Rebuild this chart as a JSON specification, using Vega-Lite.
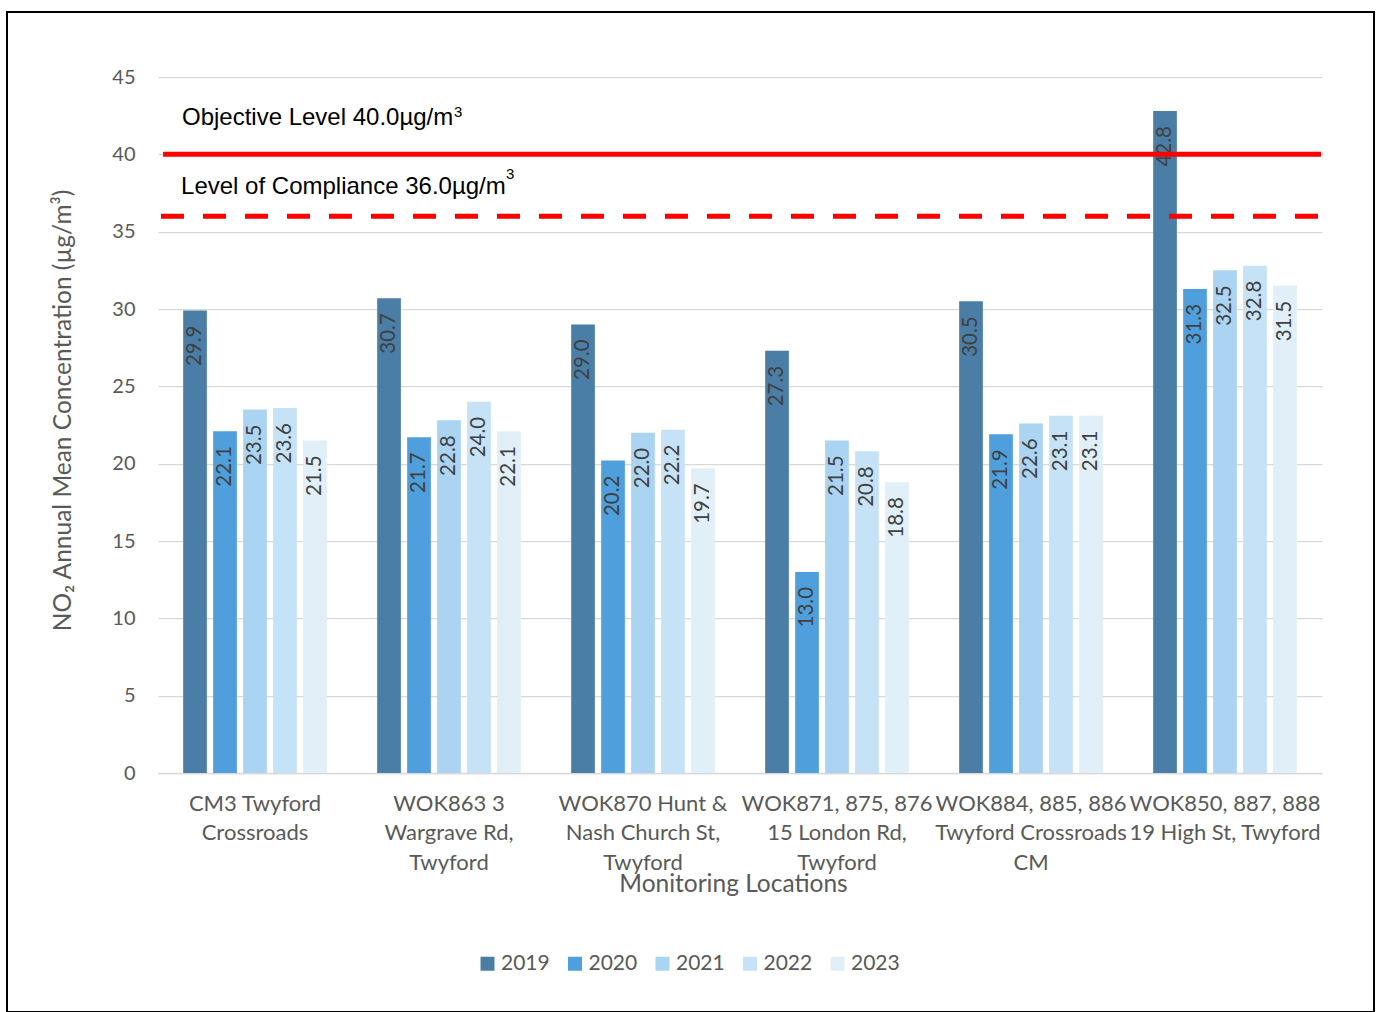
{
  "$schema": "https://vega.github.io/schema/vega-lite/v6.json",
  "autosize": {"type": "none"},
  "padding": {"left": 7, "top": 12, "right": 4, "bottom": 0},
  "width": 1367,
  "height": 1000,
  "background": "white",
  "config": {
    "view": {"stroke": "#000000", "strokeWidth": 2, "fill": "white"}
  },
  "datasets": {
    "no2": [
      {"location": "CM3 Twyford Crossroads", "year": "2019", "value": 29.9},
      {"location": "CM3 Twyford Crossroads", "year": "2020", "value": 22.1},
      {"location": "CM3 Twyford Crossroads", "year": "2021", "value": 23.5},
      {"location": "CM3 Twyford Crossroads", "year": "2022", "value": 23.6},
      {"location": "CM3 Twyford Crossroads", "year": "2023", "value": 21.5},
      {"location": "WOK863 3 Wargrave Rd, Twyford", "year": "2019", "value": 30.7},
      {"location": "WOK863 3 Wargrave Rd, Twyford", "year": "2020", "value": 21.7},
      {"location": "WOK863 3 Wargrave Rd, Twyford", "year": "2021", "value": 22.8},
      {"location": "WOK863 3 Wargrave Rd, Twyford", "year": "2022", "value": 24.0},
      {"location": "WOK863 3 Wargrave Rd, Twyford", "year": "2023", "value": 22.1},
      {"location": "WOK870 Hunt & Nash Church St, Twyford", "year": "2019", "value": 29.0},
      {"location": "WOK870 Hunt & Nash Church St, Twyford", "year": "2020", "value": 20.2},
      {"location": "WOK870 Hunt & Nash Church St, Twyford", "year": "2021", "value": 22.0},
      {"location": "WOK870 Hunt & Nash Church St, Twyford", "year": "2022", "value": 22.2},
      {"location": "WOK870 Hunt & Nash Church St, Twyford", "year": "2023", "value": 19.7},
      {"location": "WOK871, 875, 876 15 London Rd, Twyford", "year": "2019", "value": 27.3},
      {"location": "WOK871, 875, 876 15 London Rd, Twyford", "year": "2020", "value": 13.0},
      {"location": "WOK871, 875, 876 15 London Rd, Twyford", "year": "2021", "value": 21.5},
      {"location": "WOK871, 875, 876 15 London Rd, Twyford", "year": "2022", "value": 20.8},
      {"location": "WOK871, 875, 876 15 London Rd, Twyford", "year": "2023", "value": 18.8},
      {"location": "WOK884, 885, 886 Twyford Crossroads CM", "year": "2019", "value": 30.5},
      {"location": "WOK884, 885, 886 Twyford Crossroads CM", "year": "2020", "value": 21.9},
      {"location": "WOK884, 885, 886 Twyford Crossroads CM", "year": "2021", "value": 22.6},
      {"location": "WOK884, 885, 886 Twyford Crossroads CM", "year": "2022", "value": 23.1},
      {"location": "WOK884, 885, 886 Twyford Crossroads CM", "year": "2023", "value": 23.1},
      {"location": "WOK850, 887, 888 19 High St, Twyford", "year": "2019", "value": 42.8},
      {"location": "WOK850, 887, 888 19 High St, Twyford", "year": "2020", "value": 31.3},
      {"location": "WOK850, 887, 888 19 High St, Twyford", "year": "2021", "value": 32.5},
      {"location": "WOK850, 887, 888 19 High St, Twyford", "year": "2022", "value": 32.8},
      {"location": "WOK850, 887, 888 19 High St, Twyford", "year": "2023", "value": 31.5}
    ],
    "levels": [
      {"level": 40.0, "label": "Objective Level 40.0µg/m", "sup": "3"},
      {"level": 36.0, "label": "Level of Compliance 36.0µg/m", "sup": "3"}
    ]
  },
  "layer": [
    {
      "data": {"name": "no2"},
      "mark": {"type": "bar"},
      "encoding": {
        "x": {
          "field": "location",
          "type": "nominal",
          "sort": null,
          "scale": {
            "domain": [
              "CM3 Twyford Crossroads",
              "WOK863 3 Wargrave Rd, Twyford",
              "WOK870 Hunt & Nash Church St, Twyford",
              "WOK871, 875, 876 15 London Rd, Twyford",
              "WOK884, 885, 886 Twyford Crossroads CM",
              "WOK850, 887, 888 19 High St, Twyford"
            ],
            "range": [151, 1315],
            "paddingInner": 0.227,
            "paddingOuter": 0.1135
          },
          "axis": {
            "title": "Monitoring Locations",
            "offset": -239,
            "labelAngle": 0,
            "labelPadding": 20,
            "labelBaseline": "top",
            "labelLineHeight": 29.5,
            "labelFont": "Lato",
            "labelFontSize": 22,
            "labelColor": "#595959",
            "labelLimit": 400,
            "labelOverlap": false,
            "labelBound": false,
            "ticks": false,
            "grid": false,
            "domainColor": "#d9d9d9",
            "domainWidth": 1.5,
            "titleFont": "Lato",
            "titleFontSize": 24.5,
            "titleFontWeight": "normal",
            "titleColor": "#595959",
            "titleX": 726,
            "titleY": 118,
            "titleBaseline": "alphabetic",
            "labelExpr": "datum.value == 'CM3 Twyford Crossroads' ? ['CM3 Twyford', 'Crossroads'] : datum.value == 'WOK863 3 Wargrave Rd, Twyford' ? ['WOK863 3', 'Wargrave Rd,', 'Twyford'] : datum.value == 'WOK870 Hunt & Nash Church St, Twyford' ? ['WOK870 Hunt &', 'Nash Church St,', 'Twyford'] : datum.value == 'WOK871, 875, 876 15 London Rd, Twyford' ? ['WOK871, 875, 876', '15 London Rd,', 'Twyford'] : datum.value == 'WOK884, 885, 886 Twyford Crossroads CM' ? ['WOK884, 885, 886', 'Twyford Crossroads', 'CM'] : ['WOK850, 887, 888', '19 High St, Twyford']"
          }
        },
        "xOffset": {
          "field": "year",
          "type": "nominal",
          "scale": {"paddingInner": 0.21, "paddingOuter": 0.105}
        },
        "y": {
          "field": "value",
          "type": "quantitative",
          "scale": {"domain": [0, 45], "range": [761, 65], "nice": false},
          "axis": {
            "title": "NO₂ Annual Mean Concentration (µg/m³)",
            "values": [0, 5, 10, 15, 20, 25, 30, 35, 40, 45],
            "offset": -151,
            "domain": false,
            "ticks": false,
            "labelPadding": 23,
            "labelFont": "Lato",
            "labelFontSize": 20,
            "labelColor": "#595959",
            "gridColor": "#d9d9d9",
            "gridWidth": 1.25,
            "titleFont": "Lato",
            "titleFontSize": 24.5,
            "titleFontWeight": "normal",
            "titleColor": "#595959",
            "titleAngle": 270,
            "titleAlign": "center",
            "titleBaseline": "middle",
            "titleX": -95,
            "titleY": 398
          }
        },
        "color": {
          "field": "year",
          "type": "nominal",
          "scale": {
            "domain": ["2019", "2020", "2021", "2022", "2023"],
            "range": ["#4a7ea6", "#4e9fdc", "#abd4f3", "#c6e2f7", "#e1eff9"]
          },
          "legend": {
            "orient": "none",
            "legendX": 470,
            "legendY": 941,
            "direction": "horizontal",
            "title": null,
            "padding": 0,
            "symbolType": "square",
            "symbolSize": 196,
            "symbolStrokeWidth": 0,
            "symbolOpacity": 1,
            "labelFont": "Lato",
            "labelFontSize": 21,
            "labelColor": "#595959",
            "labelOffset": 3,
            "columnPadding": 14.5
          }
        }
      }
    },
    {
      "data": {"name": "no2"},
      "mark": {
        "type": "text",
        "angle": 270,
        "align": "right",
        "baseline": "middle",
        "dx": -15,
        "font": "Lato",
        "fontSize": 20.5,
        "color": "#404040"
      },
      "encoding": {
        "x": {"field": "location", "type": "nominal", "sort": null},
        "xOffset": {"field": "year", "type": "nominal"},
        "y": {"field": "value", "type": "quantitative"},
        "text": {"field": "value", "type": "quantitative", "format": ".1f"}
      }
    },
    {
      "data": {"name": "levels"},
      "transform": [{"filter": "datum.level == 40"}],
      "mark": {"type": "rule", "color": "#ff0000", "strokeWidth": 5},
      "encoding": {
        "x": {"datum": "CM3 Twyford Crossroads", "type": "nominal", "bandPosition": -0.113},
        "x2": {"datum": "WOK850, 887, 888 19 High St, Twyford", "bandPosition": 1.14},
        "y": {"field": "level", "type": "quantitative"}
      }
    },
    {
      "data": {"name": "levels"},
      "transform": [{"filter": "datum.level == 36"}],
      "mark": {"type": "rule", "color": "#ff0000", "strokeWidth": 5, "strokeDash": [23, 19]},
      "encoding": {
        "x": {"datum": "CM3 Twyford Crossroads", "type": "nominal", "bandPosition": -0.127},
        "x2": {"datum": "WOK850, 887, 888 19 High St, Twyford", "bandPosition": 1.14},
        "y": {"field": "level", "type": "quantitative"}
      }
    },
    {
      "data": {"name": "levels"},
      "transform": [{"filter": "datum.level == 40"}],
      "mark": {
        "type": "text",
        "align": "left",
        "baseline": "alphabetic",
        "dy": -29,
        "font": "Liberation Sans",
        "fontSize": 24,
        "color": "#000000"
      },
      "encoding": {
        "x": {"datum": "CM3 Twyford Crossroads", "type": "nominal", "bandPosition": 0.013},
        "y": {"field": "level", "type": "quantitative"},
        "text": {"field": "label"}
      }
    },
    {
      "data": {"name": "levels"},
      "transform": [{"filter": "datum.level == 40"}],
      "mark": {
        "type": "text",
        "align": "left",
        "baseline": "alphabetic",
        "dx": 272,
        "dy": -37,
        "font": "Liberation Sans",
        "fontSize": 15,
        "color": "#000000"
      },
      "encoding": {
        "x": {"datum": "CM3 Twyford Crossroads", "type": "nominal", "bandPosition": 0.013},
        "y": {"field": "level", "type": "quantitative"},
        "text": {"field": "sup"}
      }
    },
    {
      "data": {"name": "levels"},
      "transform": [{"filter": "datum.level == 36"}],
      "mark": {
        "type": "text",
        "align": "left",
        "baseline": "alphabetic",
        "dy": -22,
        "font": "Liberation Sans",
        "fontSize": 24,
        "color": "#000000"
      },
      "encoding": {
        "x": {"datum": "CM3 Twyford Crossroads", "type": "nominal", "bandPosition": 0.007},
        "y": {"field": "level", "type": "quantitative"},
        "text": {"field": "label"}
      }
    },
    {
      "data": {"name": "levels"},
      "transform": [{"filter": "datum.level == 36"}],
      "mark": {
        "type": "text",
        "align": "left",
        "baseline": "alphabetic",
        "dx": 325,
        "dy": -37,
        "font": "Liberation Sans",
        "fontSize": 15,
        "color": "#000000"
      },
      "encoding": {
        "x": {"datum": "CM3 Twyford Crossroads", "type": "nominal", "bandPosition": 0.007},
        "y": {"field": "level", "type": "quantitative"},
        "text": {"field": "sup"}
      }
    }
  ]
}
